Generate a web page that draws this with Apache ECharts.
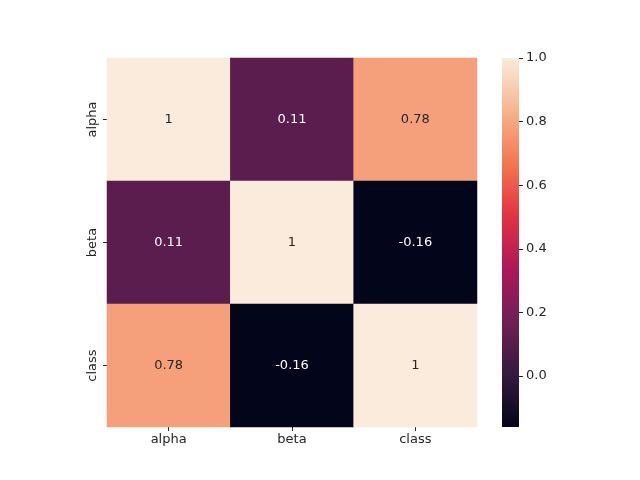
<!DOCTYPE html>
<html><head><meta charset="utf-8">
<script src="https://cdn.jsdelivr.net/npm/echarts@6/dist/echarts.min.js"></script>
<style>html,body{margin:0;padding:0;background:#fff}#c{width:640px;height:480px}</style>
</head><body><div id="c"></div>
<script>
const labels = ['alpha', 'beta', 'class'];
const rowAlpha = [1, 0.11, 0.78];
const rowBeta = [0.11, 1, -0.16];
const rowClass = [0.78, -0.16, 1];
const colorbarTicks = [0, 0.2, 0.4, 0.6, 0.8, 1.0];
const vmin = -0.16, vmax = 1;

const rocketStops = [
  [0.0, '#03051a'], [1/7, '#35193e'], [2/7, '#701f57'], [3/7, '#ad1759'],
  [4/7, '#e13342'], [5/7, '#f37651'], [6/7, '#f6b48f'], [1.0, '#faebdd']
];
function hex2rgb(h){return [1,3,5].map(i=>parseInt(h.substr(i,2),16));}
function rocket(t){
  for(let i=1;i<rocketStops.length;i++){
    if(t<=rocketStops[i][0]){
      const [t0,c0]=rocketStops[i-1],[t1,c1]=rocketStops[i];
      const f=(t-t0)/(t1-t0), a=hex2rgb(c0), b=hex2rgb(c1);
      return 'rgb('+a.map((v,k)=>Math.round(v+(b[k]-v)*f)).join(',')+')';
    }
  }
  return rocketStops[rocketStops.length-1][1];
}
const palette = [];
for(let i=0;i<=100;i++) palette.push(rocket(i/100));
const gradStops = palette.map((c,i)=>({offset: 1 - i/100, color: c})).reverse();

const rows = [rowAlpha, rowBeta, rowClass];
const data = [];
rows.forEach((r, yi) => r.forEach((v, xi) => {
  data.push({value: [xi, yi, v], label: {color: v > 0.5 ? '#262626' : '#ffffff'}});
}));

const font = 'DejaVu Sans';
const chart = echarts.init(document.getElementById('c'));
chart.setOption({
  animation: false,
  textStyle: {fontFamily: font},
  grid: [
    {left: 107, top: 58, width: 370, height: 369},
    {left: 502, top: 58, width: 17, height: 369}
  ],
  graphic: [{
    type: 'rect', left: 502, top: 58, z: 0, silent: true,
    shape: {x: 0, y: 0, width: 17, height: 369},
    style: {fill: new echarts.graphic.LinearGradient(0, 0, 0, 1, gradStops), stroke: null, lineWidth: 0}
  }],
  xAxis: [
    {type: 'category', data: labels, gridIndex: 0, position: 'bottom',
     axisLine: {show: false}, splitLine: {show: false},
     axisTick: {show: true, alignWithLabel: true, length: 4, lineStyle: {color: '#262626'}},
     axisLabel: {color: '#262626', fontSize: 13, fontFamily: font, margin: 6}},
    {type: 'value', gridIndex: 1, show: false, min: 0, max: 1, axisLine: {onZero: false}}
  ],
  yAxis: [
    {type: 'category', data: labels, gridIndex: 0, inverse: true,
     axisLine: {show: false}, splitLine: {show: false},
     axisTick: {show: true, alignWithLabel: true, length: 4, lineStyle: {color: '#262626'}},
     axisLabel: {color: '#262626', fontSize: 13, fontFamily: font, rotate: 90, margin: 8}},
    {type: 'value', gridIndex: 1, position: 'right', min: vmin, max: vmax,
     axisLine: {show: false, onZero: false}, splitLine: {show: false},
     axisTick: {show: true, length: 4, customValues: colorbarTicks, lineStyle: {color: '#262626'}},
     axisLabel: {show: true, customValues: colorbarTicks, color: '#262626', fontSize: 13, fontFamily: font, margin: 7,
       formatter: v => v.toFixed(1)}}
  ],
  visualMap: {
    type: 'continuous', min: vmin, max: vmax, show: false, seriesIndex: 0,
    inRange: {color: palette}
  },
  series: [{
    type: 'heatmap', xAxisIndex: 0, yAxisIndex: 0, data: data,
    label: {show: true, fontSize: 13, fontFamily: font, formatter: p => String(p.value[2])},
    emphasis: {disabled: true}
  }]
});
</script></body></html>
